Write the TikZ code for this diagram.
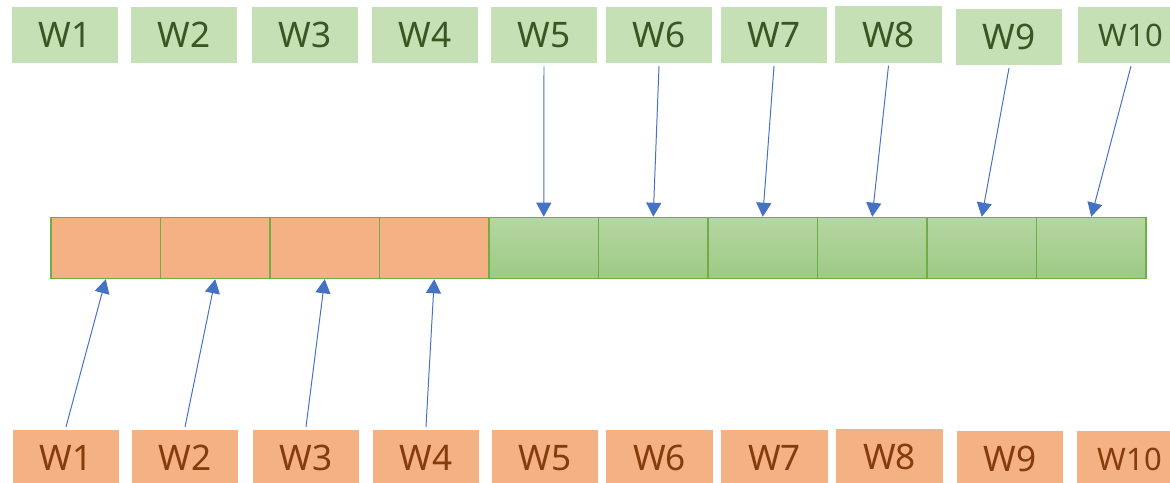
\documentclass[tikz,border=0pt]{standalone}
\usepackage{fontspec}
\setmainfont{Noto Sans}
\usetikzlibrary{arrows.meta}
\definecolor{wgreen}{RGB}{197,224,180}
\definecolor{wgreentext}{RGB}{56,87,35}
\definecolor{worange}{RGB}{244,177,131}
\definecolor{worangetext}{RGB}{132,60,12}
\definecolor{wedge}{RGB}{112,173,71}
\definecolor{wcelltop}{RGB}{182,214,162}
\definecolor{wcellbot}{RGB}{156,202,132}
\definecolor{wblue}{RGB}{68,114,196}
\tikzset{
  wtop/.style={fill=wgreen, text=wgreentext, minimum width=2.65cm, minimum height=1.4cm, inner sep=0pt},
  wbot/.style={fill=worange, text=worangetext, minimum width=2.65cm, minimum height=1.4cm, inner sep=0pt},
  wsmall/.style={font=\fontsize{22}{24}\selectfont},
  cellold/.style={draw=wedge, line width=1.1pt, fill=worange, minimum width=2.7375cm, minimum height=1.525cm, inner sep=0pt},
  cellnew/.style={draw=wedge, line width=1.1pt, top color=wcelltop, bottom color=wcellbot, minimum width=2.7375cm, minimum height=1.525cm, inner sep=0pt},
  warr/.style={-{Triangle[width=.375cm, length=.35cm]}, line width=.7pt, draw=wblue}
}

\begin{document}
\begin{tikzpicture}[x=.025cm, y=-.025cm, font=\fontsize{25}{28}\selectfont]
  \clip (0,0) rectangle (1170,482);
  \fill[white] (0,0) rectangle (1170,482);
  % buffer cells
  \foreach \i in {1,...,4}
    \node[cellold] (c\i) at ({51+109.5*(\i-.5)},248) {};
  \foreach \i in {5,...,10}
    \node[cellnew] (c\i) at ({51+109.5*(\i-.5)},248) {};
  % upper row
  \node[wtop] (t1) at (65,35) {W1};
  \node[wtop] (t2) at (184,35) {W2};
  \node[wtop] (t3) at (305,35) {W3};
  \node[wtop] (t4) at (425,35) {W4};
  \node[wtop] (t5) at (544,35) {W5};
  \node[wtop] (t6) at (659,35) {W6};
  \node[wtop] (t7) at (774,35) {W7};
  \node[wtop] (t8) at (888.5,34.5) {W8};
  \node[wtop] (t9) at (1009,37) {W9};
  \node[wtop, wsmall] (t10) at (1131,35) {W10};
  % lower row
  \node[wbot] (b1) at (66,458) {W1};
  \node[wbot] (b2) at (185,458) {W2};
  \node[wbot] (b3) at (306,458) {W3};
  \node[wbot] (b4) at (426,458) {W4};
  \node[wbot] (b5) at (545,458) {W5};
  \node[wbot] (b6) at (659.5,458) {W6};
  \node[wbot] (b7) at (774.5,458) {W7};
  \node[wbot] (b8) at (889.5,457) {W8};
  \node[wbot] (b9) at (1010,459) {W9};
  \node[wbot, wsmall] (b10) at (1130,459) {W10};
  % writes into the cells
  \foreach \i in {1,...,4}
    \draw[warr] ([yshift=2pt]b\i.north) -- (c\i.south);
  \foreach \i in {5,...,10}
    \draw[warr] ([yshift=-2pt]t\i.south) -- (c\i.north);
\end{tikzpicture}
\end{document}
